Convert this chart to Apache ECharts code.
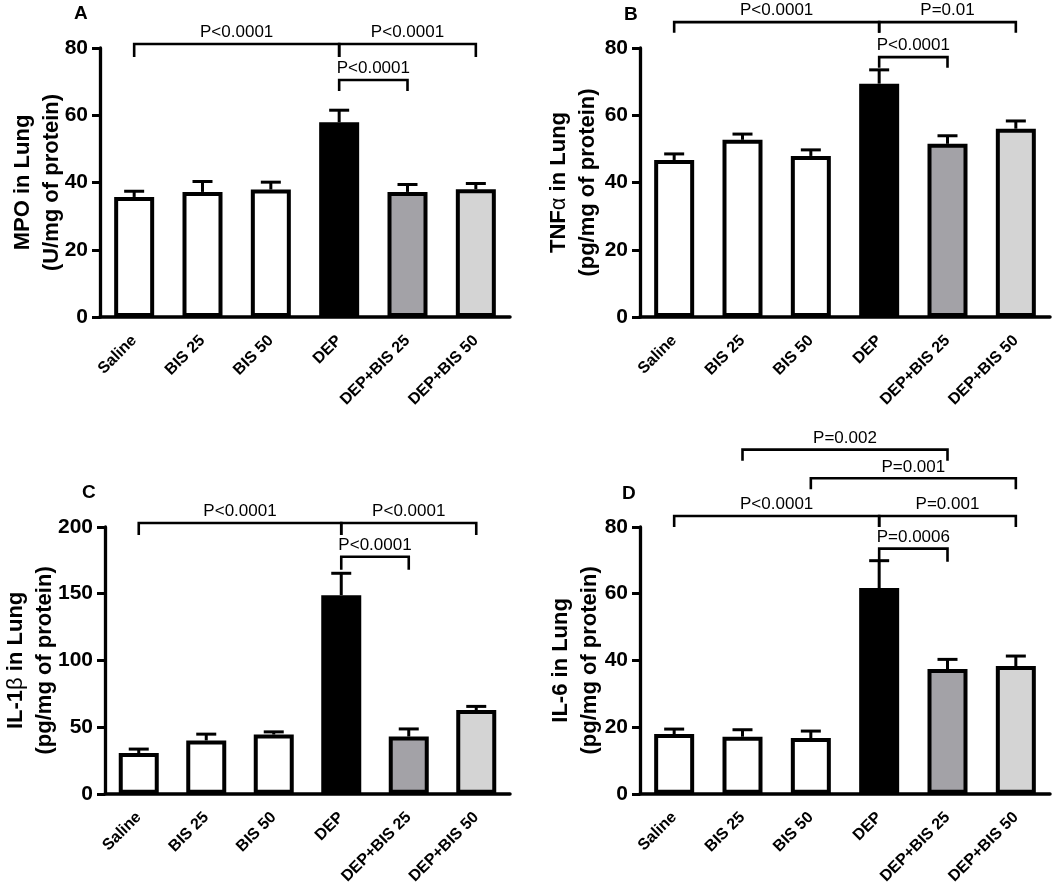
<!DOCTYPE html>
<html><head><meta charset="utf-8">
<script src="https://cdn.jsdelivr.net/npm/echarts@6/dist/echarts.min.js"></script>
<style>html,body{margin:0;padding:0;background:#fff}#c{width:1052px;height:887px}</style>
</head><body><div id="c"></div>
<script>
const categories = ['Saline','BIS 25','BIS 50','DEP','DEP+BIS 25','DEP+BIS 50'];
const barColors = ['#ffffff','#ffffff','#ffffff','#000000','#a3a2a7','#d4d4d4'];

const mpoMean  = [35.7, 37.2, 37.9, 57.9, 37.2, 38.0];
const mpoUpper = [37.4, 40.3, 40.1, 61.5, 39.4, 39.7];
const tnfMean  = [46.7, 52.7, 47.9, 69.4, 51.5, 56.0];
const tnfUpper = [48.5, 54.4, 49.7, 73.5, 53.9, 58.3];
const il1bMean  = [30.5, 40.0, 44.4, 148.9, 42.9, 62.8];
const il1bUpper = [33.5, 44.7, 46.4, 165.3, 48.6, 65.5];
const il6Mean  = [17.9, 17.1, 16.7, 61.7, 37.4, 38.3];
const il6Upper = [19.4, 19.2, 18.8, 69.9, 40.3, 41.3];

// y-axis ranges: [max, interval]
const axisA = [80, 20];
const axisB = [80, 20];
const axisC = [200, 50];
const axisD = [80, 20];

// brackets: [fromIndex, toIndex, level, tickEnd, label]
const mpoBrackets = [
  [0, 3, 81.2, 77.3, 'P<0.0001'],
  [3, 5, 81.2, 77.3, 'P<0.0001'],
  [3, 4, 70.5, 67.2, 'P<0.0001']
];
const tnfBrackets = [
  [0, 3, 87.7, 84.5, 'P<0.0001'],
  [3, 5, 87.7, 84.5, 'P=0.01'],
  [3, 4, 77.3, 74.1, 'P<0.0001']
];
const il1bBrackets = [
  [0, 3, 203, 194, 'P<0.0001'],
  [3, 5, 203, 194, 'P<0.0001'],
  [3, 4, 177.7, 168, 'P<0.0001']
];
const il6Brackets = [
  [0, 3, 83.3, 80.0, 'P<0.0001'],
  [3, 5, 83.3, 80.0, 'P=0.001'],
  [3, 4, 73.5, 69.6, 'P=0.0006'],
  [2, 5, 94.6, 91.3, 'P=0.001'],
  [1, 4, 103.2, 99.9, 'P=0.002']
];

const FONT = '"Liberation Sans", Arial, Helvetica, sans-serif';

const panels = [
  {letter:'A', mean:mpoMean, upper:mpoUpper, axis:axisA, brackets:mpoBrackets,
   name:'MPO in Lung\n(U/mg of protein)', gap:34, grid:{left:100, top:48}, letterPos:[74,4]},
  {letter:'B', mean:tnfMean, upper:tnfUpper, axis:axisB, brackets:tnfBrackets,
   name:'TNF{n|α} in Lung\n(pg/mg of protein)', gap:38, grid:{left:640, top:48}, letterPos:[624,5]},
  {letter:'C', mean:il1bMean, upper:il1bUpper, axis:axisC, brackets:il1bBrackets,
   name:'IL-1{n|β} in Lung\n(pg/mg of protein)', gap:46, grid:{left:100, top:527}, letterPos:[82,483]},
  {letter:'D', mean:il6Mean, upper:il6Upper, axis:axisD, brackets:il6Brackets,
   name:'IL-6 in Lung\n(pg/mg of protein)', gap:36, grid:{left:640, top:527}, letterPos:[622,484]}
];

const grids = [], xAxes = [], yAxes = [], series = [], titles = [];

panels.forEach((p, k) => {
  grids.push({left:p.grid.left, top:p.grid.top, width:410, height:269, containLabel:false});
  titles.push({text:p.letter, left:p.letterPos[0], top:p.letterPos[1], padding:0,
    textStyle:{fontFamily:FONT, fontWeight:'bold', fontSize:19, color:'#000'}});
  xAxes.push({
    type:'category', gridIndex:k, data:categories, boundaryGap:true,
    axisLine:{show:true, lineStyle:{color:'#000', width:3.5}},
    axisTick:{show:false},
    axisLabel:{interval:0, rotate:45, margin:21, color:'#000', fontFamily:FONT, fontWeight:'bold', fontSize:16}
  });
  yAxes.push({
    type:'value', gridIndex:k, min:0, max:p.axis[0], interval:p.axis[1],
    name:p.name, nameLocation:'middle', nameGap:p.gap, nameRotate:90, nameMoveOverlap:false,
    nameTextStyle:{color:'#000', fontFamily:FONT, fontWeight:'bold', fontSize:22, lineHeight:29,
      rich:{n:{fontFamily:FONT, fontWeight:'normal', fontSize:22, lineHeight:29, color:'#000'}}},
    axisLine:{show:true, lineStyle:{color:'#000', width:3.3}},
    axisTick:{show:true, length:8, lineStyle:{color:'#000', width:3}},
    splitLine:{show:false},
    axisLabel:{margin:12, color:'#000', fontFamily:FONT, fontWeight:'bold', fontSize:21}
  });
  series.push({
    type:'bar', xAxisIndex:k, yAxisIndex:k, barWidth:40,
    data:p.mean.map((v, i) => ({value:v, itemStyle:{color:barColors[i], borderColor:'#000', borderWidth:4}})),
    silent:true, z:2
  });
  series.push({
    type:'custom', xAxisIndex:k, yAxisIndex:k, clip:false, silent:true, z:3,
    encode:{x:0, y:[1,2]},
    data:p.mean.map((v, i) => [i, v, p.upper[i]]),
    renderItem:function(params, api){
      const p0 = api.coord([api.value(0), api.value(1)]);
      const p1 = api.coord([api.value(0), api.value(2)]);
      return {type:'group', children:[
        {type:'line', shape:{x1:p0[0], y1:p0[1], x2:p1[0], y2:p1[1]}, style:{stroke:'#000', lineWidth:3}},
        {type:'line', shape:{x1:p1[0]-10, y1:p1[1], x2:p1[0]+10, y2:p1[1]}, style:{stroke:'#000', lineWidth:3}}
      ]};
    }
  });
  const br = p.brackets;
  series.push({
    type:'custom', xAxisIndex:k, yAxisIndex:k, clip:false, silent:true, z:4,
    encode:{x:[0,1], y:[2,3]},
    data:br.map(b => [b[0], b[1], b[2], b[3]]),
    renderItem:function(params, api){
      const b = br[params.dataIndex];
      const x1 = api.coord([b[0], 0])[0];
      const x2 = api.coord([b[1], 0])[0];
      const y = api.coord([0, b[2]])[1];
      const yt = api.coord([0, b[3]])[1];
      return {type:'group', children:[
        {type:'polyline', shape:{points:[[x1,yt],[x1,y],[x2,y],[x2,yt]]},
         style:{stroke:'#000', lineWidth:2.6, fill:'none'}},
        {type:'text', style:{text:b[4], x:(x1+x2)/2, y:y-3, textAlign:'center', textVerticalAlign:'bottom',
          fontFamily:FONT, fontSize:17, fill:'#000'}}
      ]};
    }
  });
});

const chart = echarts.init(document.getElementById('c'), null, {renderer:'canvas'});
chart.setOption({
  backgroundColor:'#fff',
  animation:false,
  title:titles,
  grid:grids,
  xAxis:xAxes,
  yAxis:yAxes,
  series:series
});
</script>
</body></html>
